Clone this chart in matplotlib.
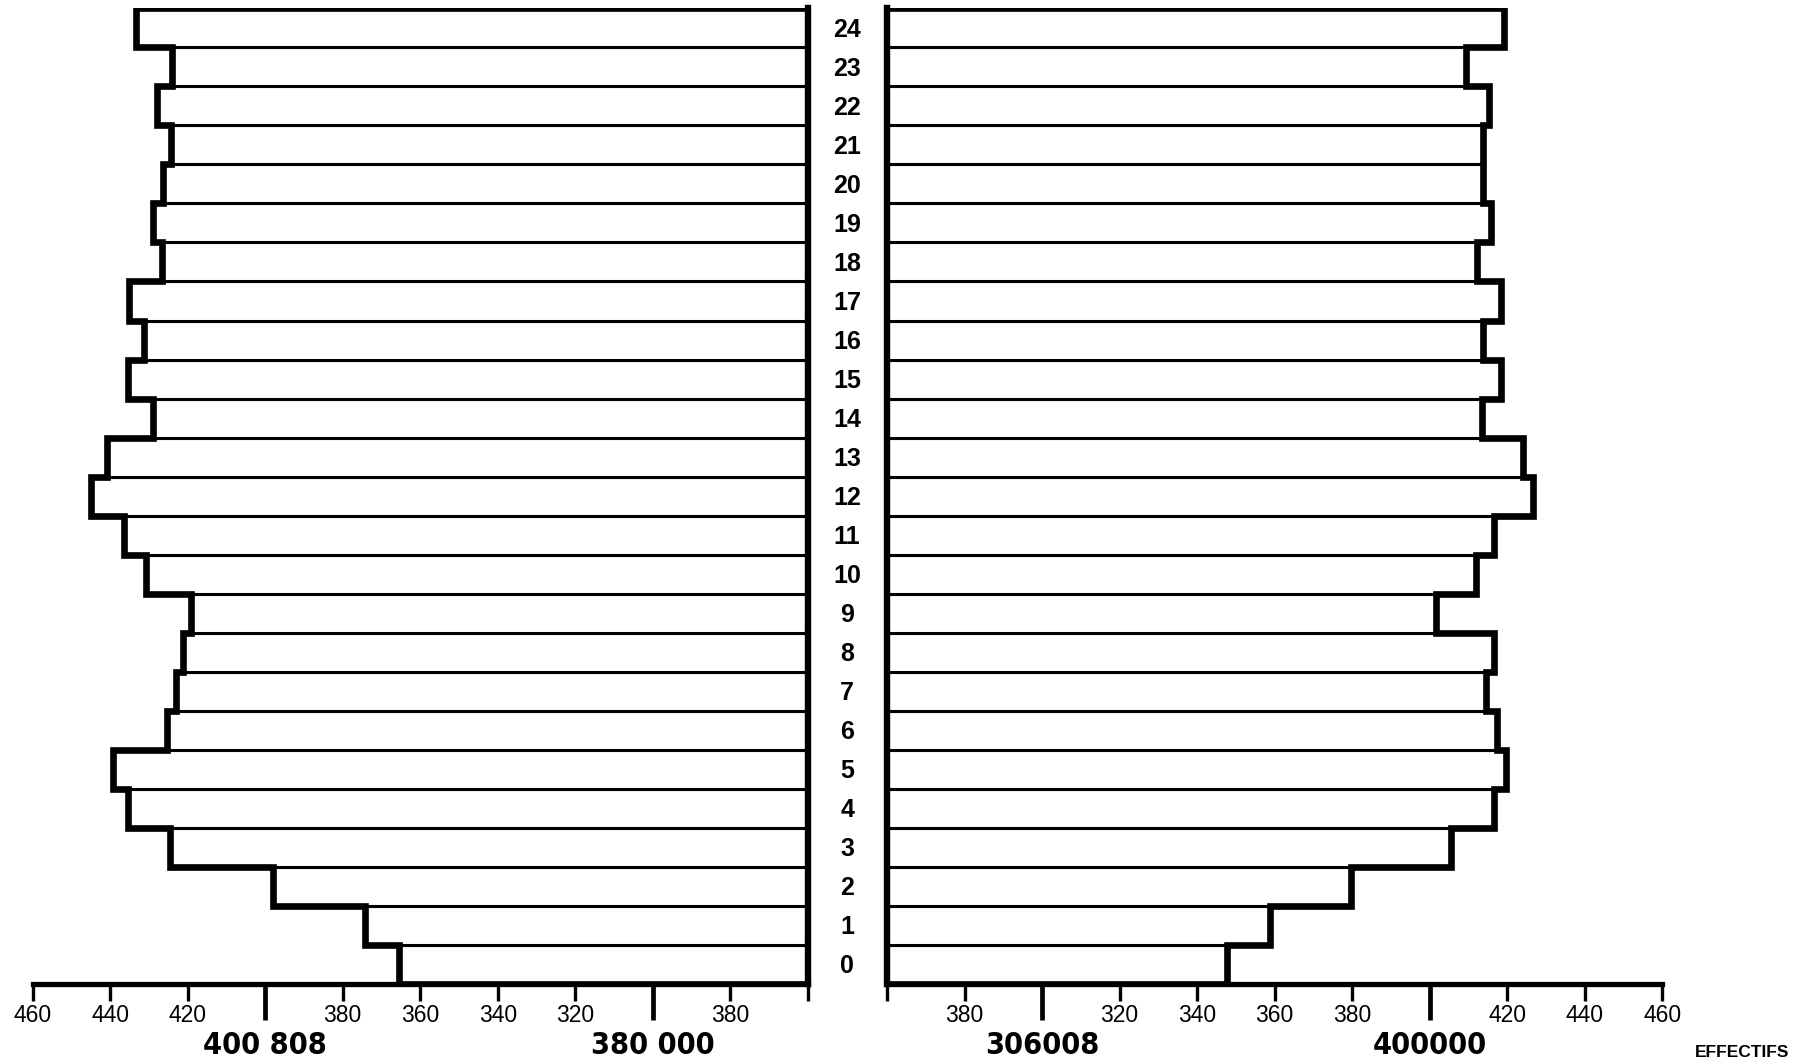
import numpy as np
import matplotlib
matplotlib.use('Agg')
import matplotlib.pyplot as plt
import matplotlib.transforms as mtransforms

# ====================== 数据（单位：千人） ======================
ages = list(range(25))

# 左侧（从 0 岁到 24 岁）
left_values = [365.4, 374.2, 398.1, 424.6, 435.3, 439.2, 425.3, 423.0, 421.3, 419.2,
               430.8, 436.4, 445.0, 440.7, 429.0, 435.3, 431.3, 435.1, 426.6, 429.0,
               426.5, 424.4, 428.0, 424.1, 433.3]

# 右侧
right_values = [347.7, 358.8, 379.7, 405.5, 416.6, 419.7, 417.3, 414.5, 416.6, 401.6,
                412.0, 416.6, 426.6, 424.1, 413.5, 418.4, 413.9, 418.4, 412.3, 415.8,
                413.7, 413.9, 415.4, 409.3, 419.1]

# 刻度与标签（照原图扫描文字保留）
minor_ticks = [260, 280, 320, 340, 360, 380, 420, 440, 460]
minor_labels = ['', '380', '320', '340', '360', '380', '420', '440', '460']
major_ticks = [300, 400]
left_major_labels = ['380 000', '400 808']
right_major_labels = ['306008', '400000']

AXIS_MIN, AXIS_MAX = 260, 460

plt.rcParams['font.family'] = ['Liberation Sans', 'DejaVu Sans']
BIG = dict(family='DejaVu Sans', fontstretch='condensed', fontsize=22, fontweight='bold')


def draw_side(ax, values, major_labels, inverted):
    """画一侧的金字塔"""
    edges = np.arange(len(ages) + 1) - 0.5
    widths = [v - AXIS_MIN for v in values]

    # 细分隔线的横条
    ax.barh(ages, widths, left=AXIS_MIN, height=1.0, color='white',
            edgecolor='black', linewidth=2.2, zorder=2)
    # 粗的外轮廓
    outline = ax.stairs(values, edges, orientation='horizontal', baseline=AXIS_MIN,
                        fill=False, color='black', linewidth=4.8, zorder=3)
    outline.set_joinstyle('miter')

    if inverted:
        ax.set_xlim(AXIS_MAX, AXIS_MIN)
    else:
        ax.set_xlim(AXIS_MIN, AXIS_MAX)
    ax.set_ylim(-0.5, len(ages) - 0.5)
    ax.set_yticks([])

    # 刻度
    ax.set_xticks(major_ticks, labels=major_labels, **BIG)
    ax.set_xticks(minor_ticks, labels=minor_labels, minor=True, fontsize=16.5)
    ax.tick_params(axis='x', which='major', length=26, width=3.4, pad=8)
    ax.tick_params(axis='x', which='minor', length=12, width=2.4, pad=2.5)

    # 轴线
    ax.spines['top'].set_visible(False)
    if inverted:
        ax.spines['left'].set_visible(False)
        ax.spines['right'].set_linewidth(4.6)
    else:
        ax.spines['right'].set_visible(False)
        ax.spines['left'].set_linewidth(4.6)
    ax.spines['bottom'].set_linewidth(3.8)
    for s in ax.spines.values():
        s.set_zorder(4)


fig = plt.figure(figsize=(18.07, 10.64), dpi=100)
fig.patch.set_facecolor('white')

ax_l = fig.add_axes([0.0181, 0.0752, 0.4289, 0.9170])
ax_r = fig.add_axes([0.4909, 0.0752, 0.4289, 0.9170])

draw_side(ax_l, left_values, left_major_labels, inverted=True)
draw_side(ax_r, right_values, right_major_labels, inverted=False)

# 中间的年龄标签
trans = mtransforms.blended_transform_factory(fig.transFigure, ax_l.transData)
for a in ages:
    ax_l.text(0.4688, a - 0.05, str(a), transform=trans, ha='center', va='center',
              fontsize=18, fontweight='bold', clip_on=False)

fig.text(0.964, 0.011, 'EFFECTIFS', ha='center', va='center',
         fontsize=12.5, fontweight='bold')

fig.savefig('out.png', dpi=100, facecolor='white')
